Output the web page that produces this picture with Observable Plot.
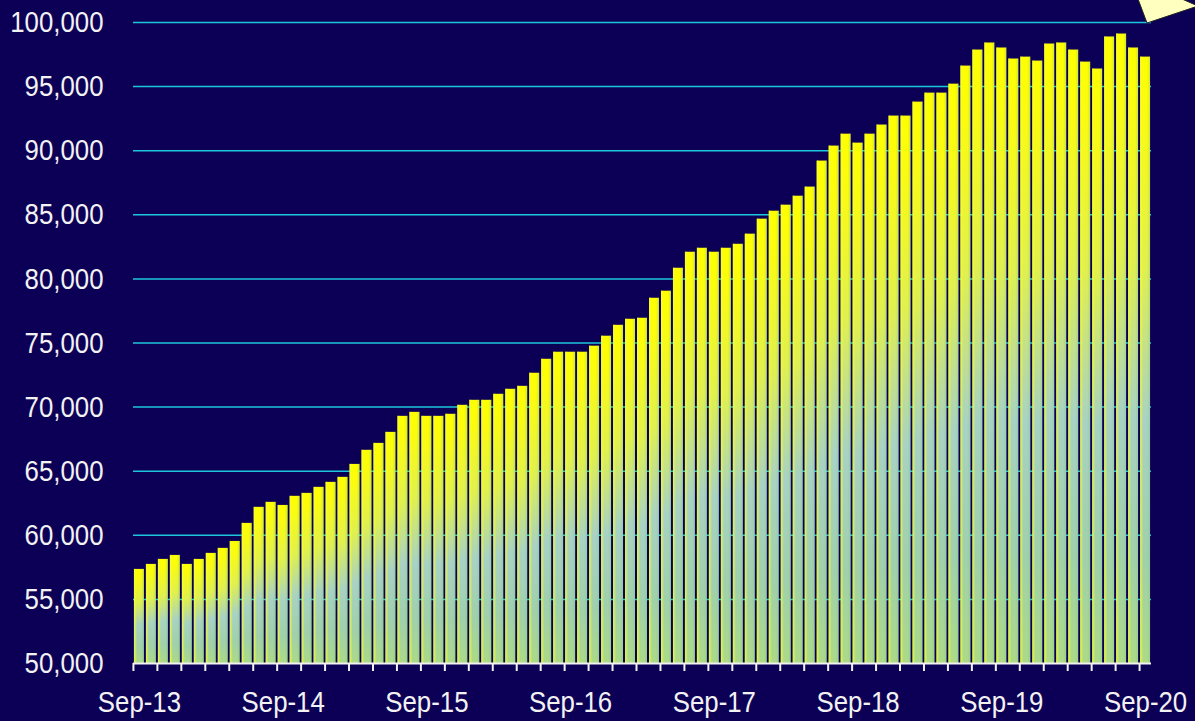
<!DOCTYPE html>
<html><head><meta charset="utf-8">
<script src="https://cdn.jsdelivr.net/npm/d3@7"></script>
<script src="https://cdn.jsdelivr.net/npm/@observablehq/plot@0.6"></script>
<style>
html,body{margin:0;padding:0;background:#0c0056;width:1195px;height:721px;overflow:hidden}
#wrap{position:relative;width:1195px;height:721px}
#deco{position:absolute;left:0;top:0;pointer-events:none}
</style></head><body><div id="wrap"></div>
<script>
// Monthly categories Sep-13 .. Sep-20
const months = d3.utcMonths(new Date(Date.UTC(2013, 8, 1)), new Date(Date.UTC(2020, 9, 1))).map(d3.utcFormat("%b-%y"));
const values = [
  57340, 57730, 58120, 58430, 57730, 58120, 58590, 58980, 59520, 60930, 62180, 62570,
  62330, 63040, 63270, 63740, 64130, 64520, 65530, 66630, 67170, 68030, 69280, 69590,
  69280, 69280, 69440, 70140, 70530, 70530, 71000, 71390, 71620, 72640, 73730, 74280,
  74280, 74280, 74750, 75530, 76380, 76850, 76930, 78490, 79040, 80830, 82080, 82390,
  82080, 82390, 82700, 83490, 84660, 85280, 85750, 86450, 87160, 89190, 90360, 91290,
  90590, 91290, 92000, 92700, 92700, 93790, 94490, 94490, 95190, 96600, 97850, 98400,
  98010, 97150, 97300, 96990, 98320, 98400, 97850, 96910, 96370, 98870, 99100, 98010,
  97300
];
const yTicks = [50000, 55000, 60000, 65000, 70000, 75000, 80000, 85000, 90000, 95000, 100000];
const xTickLabels = ["Sep-13", "Sep-14", "Sep-15", "Sep-16", "Sep-17", "Sep-18", "Sep-19", "Sep-20"];
const xTickMarks = months.filter((m, i) => i % 2 === 0);

const data = months.map((m, i) => ({month: m, value: values[i]}));

const defs = () => {
  const ns = "http://www.w3.org/2000/svg";
  const d = document.createElementNS(ns, "defs");
  d.innerHTML = `
  <linearGradient id="vGrad" x1="0" y1="0" x2="0" y2="1">
    <stop offset="0" stop-color="#ffff00"/>
    <stop offset="0.1" stop-color="#fbfb10"/>
    <stop offset="0.35" stop-color="#e0f050"/>
    <stop offset="0.6" stop-color="#a8d2c4"/>
    <stop offset="0.82" stop-color="#a0d0ac"/>
    <stop offset="1" stop-color="#acda88"/>
  </linearGradient>
  <linearGradient id="hGrad" x1="0" y1="0" x2="1" y2="0">
    <stop offset="0" stop-color="#f4ff30" stop-opacity="0.85"/>
    <stop offset="0.3" stop-color="#f4ff30" stop-opacity="0"/>
    <stop offset="0.7" stop-color="#80c080" stop-opacity="0"/>
    <stop offset="1" stop-color="#80c080" stop-opacity="0.35"/>
  </linearGradient>`;
  return d;
};

const plot = Plot.plot({
  width: 1195,
  height: 721,
  marginLeft: 133,
  marginRight: 44,
  marginTop: 22,
  marginBottom: 58,
  style: {
    background: "#0c0056",
    color: "#f2f2f2",
    fontFamily: "'Liberation Sans', Arial, sans-serif",
    fontSize: "30px"
  },
  x: {type: "band", domain: months, paddingInner: 0.17, paddingOuter: 0.08, axis: null},
  y: {domain: [50000, 100000], axis: null},
  marks: [
    defs,
    Plot.ruleY(yTicks.slice(1), {stroke: "#1cc6da", strokeWidth: 1.5}),
    Plot.barY(data, {x: "month", y1: 50000, y2: "value", fill: "url(#vGrad)"}),
    Plot.barY(data, {x: "month", y1: 50000, y2: "value", fill: "url(#hGrad)"}),
    Plot.ruleY([50000], {stroke: "#f2f2f2", strokeWidth: 2}),
    Plot.axisX(xTickMarks, {tickSize: 8, dx: -6, tickFormat: () => "", label: null, stroke: "#f2f2f2", strokeWidth: 2}),
    Plot.axisX(xTickLabels, {tickSize: 0, tickPadding: 27, label: null, fill: "#f2f2f2"}),
    Plot.axisY(yTicks, {tickSize: 0, tickPadding: 30, tickFormat: d3.format(","), label: null, fill: "#f2f2f2"})
  ]
});
// narrow the axis lettering to match the condensed face of the source
plot.querySelectorAll("g[aria-label$='tick label'] text").forEach(t => {
  const tr = t.getAttribute("transform") || "";
  t.setAttribute("transform", tr + " scale(0.86,1)");
});
document.getElementById("wrap").appendChild(plot);

// decorative callout corner at top right (as in the source image)
const deco = document.createElementNS("http://www.w3.org/2000/svg", "svg");
deco.setAttribute("id", "deco");
deco.setAttribute("width", "1195");
deco.setAttribute("height", "721");
deco.innerHTML = `<polygon points="1138,-1 1147,23 1198,6 1182,-1" fill="#ffffc0" stroke="#222" stroke-width="1"/>`;
document.getElementById("wrap").appendChild(deco);
</script>
</body></html>
